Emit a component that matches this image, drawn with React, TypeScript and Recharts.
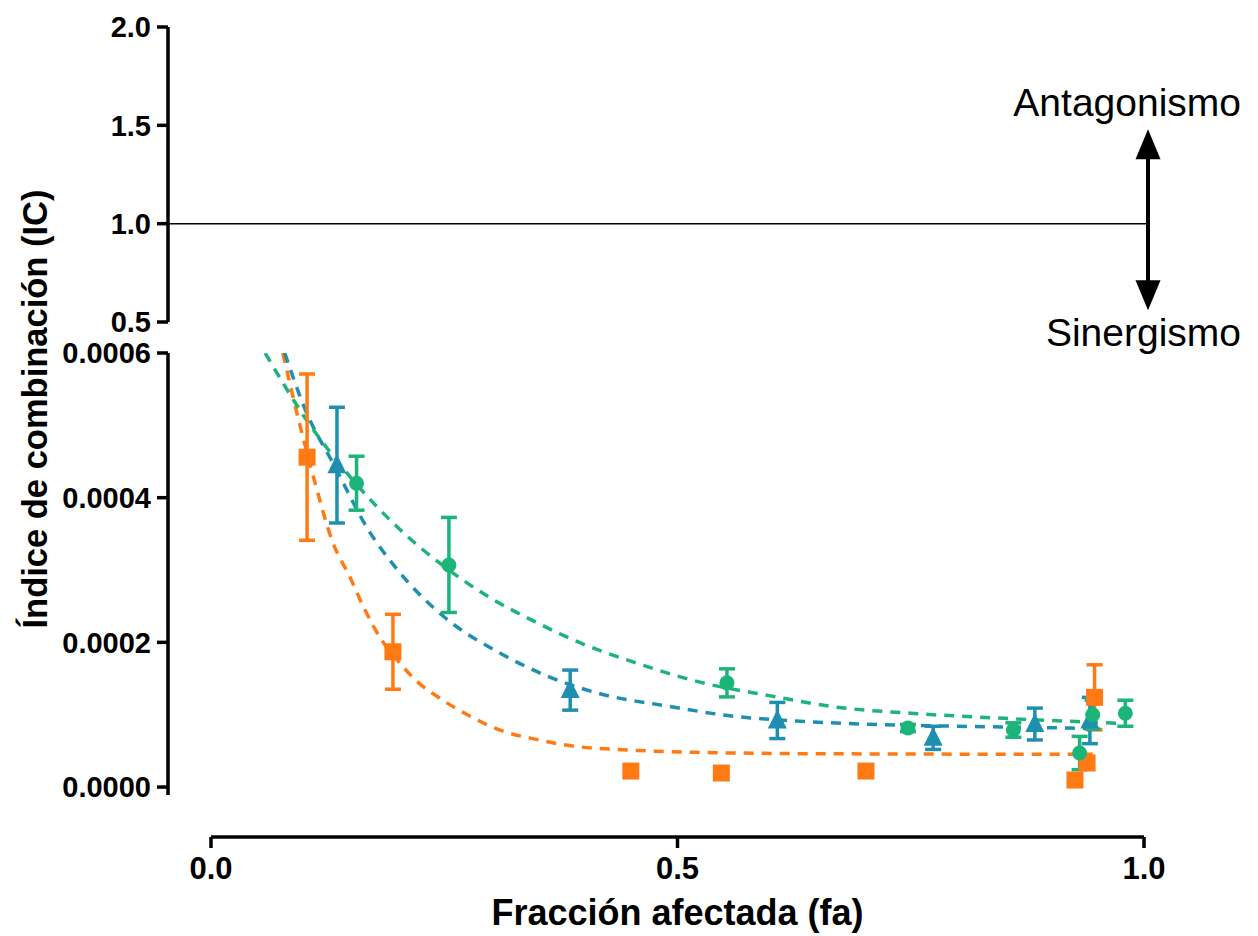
import React from 'react';
import { ComposedChart, Line, Scatter, XAxis, YAxis, ErrorBar, ReferenceLine, Label } from 'recharts';

// ---------- text ----------
const xTitle = 'Fracción afectada (fa)';
const yTitle = 'Índice de combinación (IC)';
const upLabel = 'Antagonismo';
const downLabel = 'Sinergismo';

// ---------- ticks ----------
const xTicks = [0, 0.5, 1.0];
const topTicks = [0.5, 1.0, 1.5, 2.0];
const bottomTicks = [0, 0.0002, 0.0004, 0.0006];
const additivityLine = 1.0;
const arrowTop = 1.48;
const arrowBottom = 0.56;
const arrowFa = 1.0043;

// ---------- measured points (fa, IC, SEM) ----------
const orangeFa = [0.103, 0.195, 0.45, 0.547, 0.702, 0.926, 0.939, 0.947];
const orangeIC = [0.000456, 0.000187, 0.0000221, 0.0000194, 0.0000221, 0.0000097, 0.0000332, 0.000124];
const orangeErr = [0.000115, 0.0000518, 0, 0, 0, 0, 0, 0.000045];

const blueFa = [0.135, 0.385, 0.607, 0.774, 0.883, 0.942];
const blueIC = [0.000445, 0.000134, 0.000092, 0.000068, 0.0000871, 0.000092];
const blueErr = [0.00008, 0.0000277, 0.000025, 0.000016, 0.000022, 0.000032];

const greenFa = [0.156, 0.255, 0.553, 0.747, 0.86, 0.931, 0.945, 0.98];
const greenIC = [0.00042, 0.000307, 0.000144, 0.0000816, 0.0000788, 0.000047, 0.0001, 0.000102];
const greenErr = [0.0000373, 0.0000657, 0.0000194, 0.000005, 0.00001, 0.000023, 0.00002, 0.000018];

// ---------- fitted curves ----------
const orangeFitFa = [0.077, 0.095, 0.111, 0.13, 0.149, 0.165, 0.181, 0.2, 0.22, 0.245, 0.28, 0.31, 0.35, 0.38, 0.45, 0.52, 0.6, 0.7, 0.8, 0.9, 0.945];
const orangeFitIC = [0.0006, 0.000502, 0.000423, 0.00034, 0.00029, 0.000245, 0.000207, 0.000175, 0.000147, 0.000123, 0.0000964, 0.0000786, 0.0000655, 0.000058, 0.000051, 0.000048, 0.0000465, 0.0000458, 0.0000455, 0.0000455, 0.0000455];

const blueFitFa = [0.079, 0.1, 0.134, 0.167, 0.2, 0.25, 0.31, 0.363, 0.42, 0.489, 0.556, 0.631, 0.7, 0.8, 0.9, 0.945];
const blueFitIC = [0.0006, 0.000525, 0.00044, 0.000359, 0.0003, 0.000235, 0.000185, 0.000152, 0.000128, 0.000112, 0.0000985, 0.000091, 0.000087, 0.000084, 0.000082, 0.000081];

const greenFitFa = [0.058, 0.1, 0.155, 0.2, 0.255, 0.3, 0.345, 0.4, 0.45, 0.524, 0.6, 0.667, 0.75, 0.85, 0.975];
const greenFitIC = [0.0006, 0.000512, 0.00042, 0.000359, 0.0003, 0.000261, 0.00023, 0.000197, 0.000174, 0.000145, 0.000126, 0.000111, 0.000102, 0.000095, 0.000088];

// ---------- styles ----------
const ORANGE = '#FF7A12';
const BLUE = '#1F8FB0';
const GREEN = '#1DB47A';
const FONT = '"Liberation Sans", Arial, Helvetica, sans-serif';
const W = 1258;

const toPts = (xs: number[], ys: number[], es?: number[]) =>
  xs.map((x, i) => ({ x, y: ys[i], err: es ? es[i] : 0 }));

const orangePts = toPts(orangeFa, orangeIC, orangeErr);
const bluePts = toPts(blueFa, blueIC, blueErr);
const greenPts = toPts(greenFa, greenIC, greenErr);
const orangeFit = toPts(orangeFitFa, orangeFitIC);
const blueFit = toPts(blueFitFa, blueFitIC);
const greenFit = toPts(greenFitFa, greenFitIC);

const yTickStyle = { fontSize: 29, fontWeight: 'bold', fill: '#000', fontFamily: FONT };
const xTickStyle = { fontSize: 31, fontWeight: 'bold', fill: '#000', fontFamily: FONT };

const SquareShape = (p: any) => (
  <rect x={p.cx - 8.5} y={p.cy - 8.5} width={17} height={17} fill={ORANGE} />
);
const TriangleShape = (p: any) => (
  <polygon points={`${p.cx},${p.cy - 11} ${p.cx - 9.5},${p.cy + 8} ${p.cx + 9.5},${p.cy + 8}`} fill={BLUE} />
);
const CircleShape = (p: any) => <circle cx={p.cx} cy={p.cy} r={7.5} fill={GREEN} />;

const ArrowShape = (p: any) => {
  const x = p.x1;
  const yTop = Math.min(p.y1, p.y2);
  const yBot = Math.max(p.y1, p.y2);
  const headL = 30;
  const headW = 12.5;
  return (
    <g>
      <line x1={x} y1={yTop + headL - 2} x2={x} y2={yBot - headL + 2} stroke="#000" strokeWidth={4} />
      <polygon points={`${x},${yTop} ${x - headW},${yTop + headL} ${x + headW},${yTop + headL}`} fill="#000" />
      <polygon points={`${x},${yBot} ${x - headW},${yBot - headL} ${x + headW},${yBot - headL}`} fill="#000" />
      <text x={x + 93} y={yTop - 13} textAnchor="end" fontFamily={FONT} fontSize={39} fill="#000">{upLabel}</text>
      <text x={x + 93} y={yBot + 36} textAnchor="end" fontFamily={FONT} fontSize={39} fill="#000">{downLabel}</text>
    </g>
  );
};

const YTitle = (p: any) => (
  <text
    x={47}
    y={409}
    transform="rotate(-90, 47, 409)"
    textAnchor="middle"
    fontFamily={FONT}
    fontWeight="bold"
    fontSize={34.5}
    fill="#000"
  >
    {yTitle}
  </text>
);

const abs: React.CSSProperties = { position: 'absolute', left: 0, top: 0 };

export default function App() {
  return (
    <div style={{ position: 'absolute', left: 0, top: 0, width: W, height: 936, background: '#fff' }}>
      {/* x axis (separate, offset) */}
      <div style={abs}>
        <ComposedChart width={W} height={936} data={[]} margin={{ top: 27, right: 114, bottom: 0, left: 211 }}>
          <XAxis
            type="number"
            dataKey="x"
            domain={[0, 1]}
            ticks={xTicks}
            tickFormatter={(v: number) => v.toFixed(1)}
            height={99}
            axisLine={{ stroke: '#000', strokeWidth: 3.5 }}
            tickLine={{ stroke: '#000', strokeWidth: 3.5 }}
            tickSize={11}
            tickMargin={9}
            tick={xTickStyle}
            allowDataOverflow
          >
            <Label value={xTitle} position="insideBottom" offset={11} style={{ fontSize: 36, fontWeight: 'bold', fill: '#000', fontFamily: FONT }} />
          </XAxis>
          <YAxis hide domain={[0, 1]} />
        </ComposedChart>
      </div>

      {/* top panel: 0.5 - 2.0 */}
      <div style={abs}>
        <ComposedChart width={W} height={360} data={[]} margin={{ top: 27, right: 110, bottom: 38, left: 0 }}>
          <XAxis hide type="number" dataKey="x" domain={[0, 1]} padding={{ left: 43, right: 4 }} allowDataOverflow />
          <YAxis
            type="number"
            domain={[0.5, 2]}
            ticks={topTicks}
            tickFormatter={(v: number) => v.toFixed(1)}
            width={168}
            axisLine={{ stroke: '#000', strokeWidth: 3.5 }}
            tickLine={{ stroke: '#000', strokeWidth: 3.5 }}
            tickSize={11}
            tickMargin={6}
            tick={yTickStyle}
            allowDataOverflow
          />
          <ReferenceLine y={additivityLine} stroke="#000" strokeWidth={1.5} />
          <ReferenceLine
            segment={[{ x: arrowFa, y: arrowTop }, { x: arrowFa, y: arrowBottom }]}
            ifOverflow="visible"
            shape={ArrowShape}
          />
        </ComposedChart>
      </div>

      {/* bottom panel: 0 - 0.0006 */}
      <div style={abs}>
        <ComposedChart width={W} height={820} margin={{ top: 353, right: 110, bottom: 25, left: 0 }}>
          <XAxis hide type="number" dataKey="x" domain={[0, 1]} padding={{ left: 43, right: 4 }} allowDataOverflow />
          <YAxis
            type="number"
            dataKey="y"
            domain={[-0.000011, 0.0006]}
            ticks={bottomTicks}
            tickFormatter={(v: number) => v.toFixed(4)}
            width={168}
            axisLine={{ stroke: '#000', strokeWidth: 3.5 }}
            tickLine={{ stroke: '#000', strokeWidth: 3.5 }}
            tickSize={11}
            tickMargin={6}
            tick={yTickStyle}
            allowDataOverflow
          >
            <Label content={YTitle} />
          </YAxis>
          <Line data={orangeFit} dataKey="y" type="monotone" stroke={ORANGE} strokeWidth={3.5} strokeDasharray="10 8" dot={false} isAnimationActive={false} />
          <Line data={blueFit} dataKey="y" type="monotone" stroke={BLUE} strokeWidth={3.5} strokeDasharray="10 8" dot={false} isAnimationActive={false} />
          <Line data={greenFit} dataKey="y" type="monotone" stroke={GREEN} strokeWidth={3.5} strokeDasharray="10 8" dot={false} isAnimationActive={false} />
          <Scatter data={orangePts} dataKey="y" shape={SquareShape} isAnimationActive={false}>
            <ErrorBar dataKey="err" direction="y" width={8} strokeWidth={3.5} stroke={ORANGE} />
          </Scatter>
          <Scatter data={bluePts} dataKey="y" shape={TriangleShape} isAnimationActive={false}>
            <ErrorBar dataKey="err" direction="y" width={8} strokeWidth={3.5} stroke={BLUE} />
          </Scatter>
          <Scatter data={greenPts} dataKey="y" shape={CircleShape} isAnimationActive={false}>
            <ErrorBar dataKey="err" direction="y" width={8} strokeWidth={3.5} stroke={GREEN} />
          </Scatter>
        </ComposedChart>
      </div>
    </div>
  );
}
